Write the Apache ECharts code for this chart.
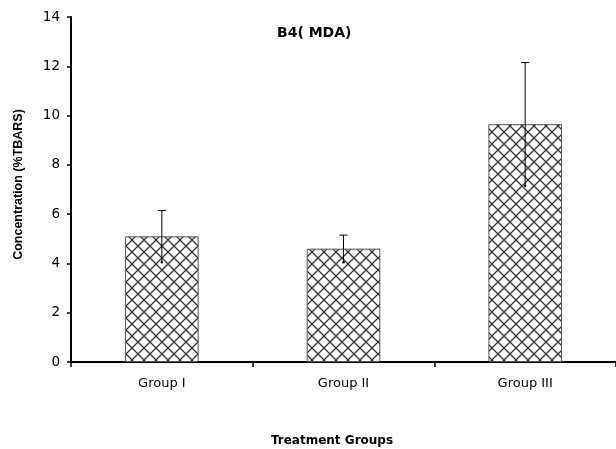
<!DOCTYPE html>
<html>
<head>
<meta charset="utf-8">
<script src="https://cdn.jsdelivr.net/npm/echarts@6/dist/echarts.min.js"></script>
<style>
  html, body { margin: 0; padding: 0; background: #fff; }
  #chart { width: 616px; height: 449px; }
</style>
</head>
<body>
<div id="chart"></div>
<script>
// Treatment groups and MDA concentration (mean ± error)
const categories = ['Group I', 'Group II', 'Group III'];
const meanValues = [5.1, 4.6, 9.65];
const errorValues = [1.05, 0.55, 2.5];
const yTicks = { min: 0, max: 14, interval: 2 };

// Cross-hatch fill for the bars
function makeHatch() {
  const s = 12;
  const c = document.createElement('canvas');
  c.width = s; c.height = s;
  const g = c.getContext('2d');
  g.fillStyle = '#ffffff';
  g.fillRect(0, 0, s, s);
  g.strokeStyle = '#333333';
  g.lineWidth = 1.3;
  g.beginPath();
  g.moveTo(0, 0); g.lineTo(s, s);
  g.moveTo(s, 0); g.lineTo(0, s);
  g.stroke();
  return c;
}

const errorData = categories.map((c, i) => [i, meanValues[i] - errorValues[i], meanValues[i] + errorValues[i]]);

const chart = echarts.init(document.getElementById('chart'), null, { renderer: 'canvas' });
chart.setOption({
  animation: false,
  backgroundColor: '#ffffff',
  title: {
    text: 'B4( MDA)',
    left: 272, top: 21,
    textStyle: { fontFamily: 'DejaVu Sans', fontWeight: 'bold', fontSize: 14, color: '#000' }
  },
  grid: { left: 71, right: 0, top: 17, bottom: 87, outerBoundsMode: 'none', containLabel: false },
  xAxis: {
    type: 'category',
    data: categories,
    name: 'Treatment Groups',
    nameLocation: 'middle',
    nameGap: 73,
    nameTextStyle: { fontFamily: 'DejaVu Sans', fontWeight: 'bold', fontSize: 12, color: '#000', padding: [0, 23, 0, 0] },
    axisLine: { lineStyle: { color: '#000', width: 2 } },
    axisTick: { show: true, length: 5, lineStyle: { color: '#000', width: 1.5 } },
    axisLabel: { fontFamily: 'DejaVu Sans', fontSize: 13, color: '#000', margin: 15 },
    splitLine: { show: false }
  },
  yAxis: {
    type: 'value',
    min: yTicks.min, max: yTicks.max, interval: yTicks.interval,
    name: 'Concentration (%TBARS)',
    nameLocation: 'middle',
    nameGap: 46,
    nameTextStyle: { fontFamily: 'Liberation Sans', fontWeight: 'bold', fontSize: 12.5, color: '#000', padding: [0, 0, 0, 10] },
    axisLine: { show: true, lineStyle: { color: '#000', width: 2 } },
    axisTick: { show: true, length: 4, lineStyle: { color: '#000', width: 1.5 } },
    axisLabel: { fontFamily: 'DejaVu Sans', fontSize: 13.5, color: '#000', margin: 11 },
    splitLine: { show: false }
  },
  series: [
    {
      type: 'bar',
      data: meanValues,
      barWidth: '40.5%',
      itemStyle: {
        color: { image: makeHatch(), repeat: 'repeat' },
        borderColor: '#555',
        borderWidth: 1
      }
    },
    {
      type: 'custom',
      data: errorData,
      z: 10,
      renderItem: function (params, api) {
        const x = api.value(0);
        const lo = api.coord([x, api.value(1)]);
        const hi = api.coord([x, api.value(2)]);
        const cap = 4;
        return {
          type: 'group',
          children: [
            { type: 'line', shape: { x1: hi[0], y1: hi[1], x2: lo[0], y2: lo[1] }, style: { stroke: '#000', lineWidth: 1 } },
            { type: 'line', shape: { x1: hi[0] - cap, y1: hi[1], x2: hi[0] + cap, y2: hi[1] }, style: { stroke: '#000', lineWidth: 1 } },
            { type: 'circle', shape: { cx: lo[0], cy: lo[1], r: 1.2 }, style: { fill: '#000' } }
          ]
        };
      }
    }
  ]
});
</script>
</body>
</html>
